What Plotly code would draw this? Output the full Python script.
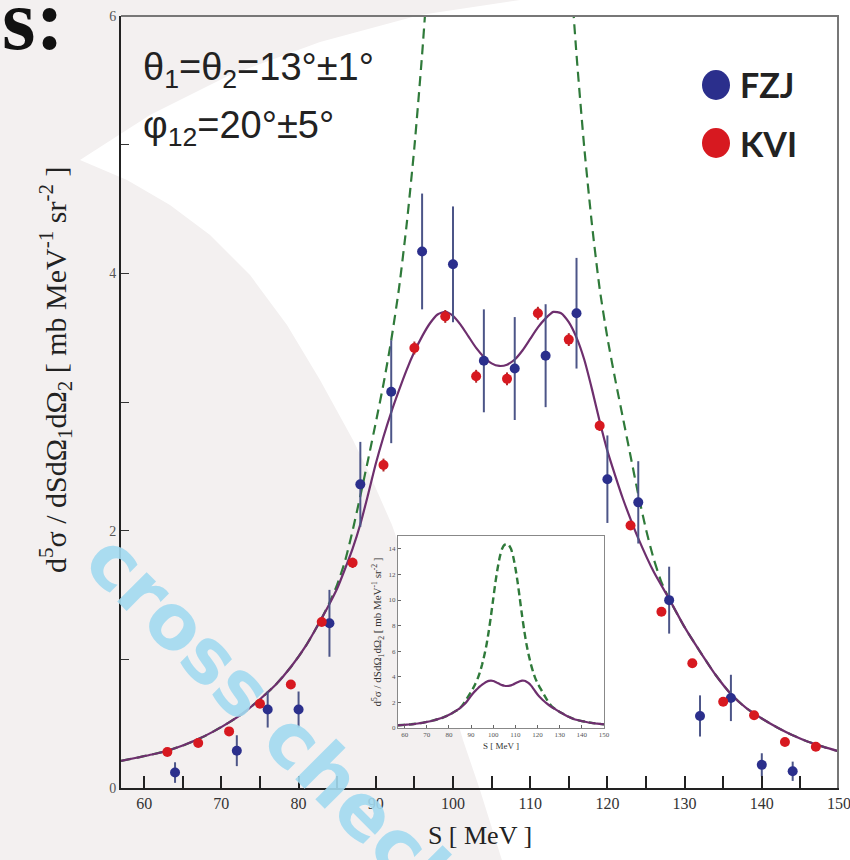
import plotly.graph_objects as go

# ---------------- data ----------------
fzj_s = [64, 72, 76, 80, 84, 88, 92, 96, 100, 104, 108, 112, 116, 120, 124, 128, 132, 136, 140, 144]
fzj_val = [0.12, 0.29, 0.61, 0.61, 1.28, 2.36, 3.08, 4.17, 4.07, 3.32, 3.26, 3.36, 3.69, 2.40, 2.22, 1.46, 0.56, 0.70, 0.18, 0.13]
fzj_err = [0.08, 0.12, 0.14, 0.14, 0.26, 0.33, 0.40, 0.45, 0.45, 0.40, 0.40, 0.40, 0.43, 0.34, 0.32, 0.26, 0.16, 0.18, 0.09, 0.075]

kvi_s = [63, 67, 71, 75, 79, 83, 87, 91, 95, 99, 103, 107, 111, 115, 119, 123, 127, 131, 135, 139, 143, 147]
kvi_val = [0.28, 0.35, 0.44, 0.655, 0.805, 1.29, 1.75, 2.51, 3.42, 3.665, 3.20, 3.18, 3.69, 3.485, 2.815, 2.04, 1.37, 0.97, 0.67, 0.565, 0.357, 0.32]
kvi_err = [0.02, 0.02, 0.02, 0.02, 0.02, 0.03, 0.04, 0.05, 0.05, 0.05, 0.05, 0.05, 0.05, 0.05, 0.04, 0.03, 0.02, 0.02, 0.02, 0.02, 0.02, 0.02]

full_s = [57, 59, 61, 63, 65, 67, 69, 71, 73, 75, 77, 79, 81, 83, 84, 85, 86, 87, 88, 89, 90,
          91, 92, 93, 94, 95, 96, 97, 98, 99, 100, 101, 102, 103, 104, 105, 106, 107, 108, 109, 110,
          111, 112, 113, 114, 115, 116, 117, 118, 119, 120, 121, 122, 123, 124, 126, 128, 130, 132,
          134, 136, 138, 140, 142, 144, 146, 148, 150]
full_val = [0.21, 0.235, 0.26, 0.29, 0.33, 0.38, 0.44, 0.51, 0.59, 0.69, 0.80, 0.94, 1.11, 1.32, 1.43, 1.55, 1.70, 1.86, 2.05, 2.28, 2.52,
            2.73, 2.92, 3.09, 3.25, 3.39, 3.51, 3.61, 3.68, 3.70, 3.67, 3.60, 3.51, 3.42, 3.35, 3.30, 3.28, 3.29, 3.33, 3.40, 3.49,
            3.58, 3.65, 3.70, 3.69, 3.62, 3.50, 3.33, 3.10, 2.85, 2.62, 2.43, 2.25, 2.09, 1.94, 1.68, 1.47, 1.25, 1.06,
            0.88, 0.73, 0.62, 0.54, 0.47, 0.41, 0.36, 0.32, 0.285]

nofsi_s = [57, 59, 61, 63, 65, 67, 69, 71, 73, 75, 77, 79, 81, 83, 84, 85, 86, 87, 88, 89, 90,
           91, 92, 93, 94, 95, 96, 97, 98, 99, 100, 101, 102, 103, 104, 105, 106, 107, 108, 109, 110,
           111, 112, 113, 114, 115, 116, 117, 118, 119, 120, 121, 122, 123, 124, 125, 126, 127, 128,
           130, 132, 134, 136, 138, 140, 142, 144, 146, 148, 150]
nofsi_val = [0.21, 0.235, 0.26, 0.29, 0.33, 0.38, 0.44, 0.51, 0.59, 0.69, 0.80, 0.94, 1.11, 1.32, 1.44, 1.58, 1.76, 2.00, 2.27, 2.55, 2.84,
             3.14, 3.48, 3.88, 4.38, 4.98, 5.70, 6.55, 7.6, 8.8, 10.1, 11.4, 12.5, 13.4, 14.0, 14.3, 14.35, 14.3, 14.0, 13.4, 12.5,
             11.4, 10.1, 8.8, 7.6, 6.55, 5.70, 4.98, 4.38, 3.88, 3.50, 3.18, 2.88, 2.58, 2.28, 2.01, 1.78, 1.60, 1.47,
             1.25, 1.06, 0.88, 0.73, 0.62, 0.54, 0.47, 0.41, 0.36, 0.32, 0.285]

x_ticks = [60, 70, 80, 90, 100, 110, 120, 130, 140, 150]
y_ticks = [0, 2, 4, 6]
inset_y_ticks = [0, 2, 4, 6, 8, 10, 12, 14]

# ---------------- page geometry (pixels -> paper) ----------------
W_FIG, H_FIG = 850, 860
L, R, T, B = 121, 839, 16, 788
PW, PH = R - L, B - T


def px(x):
    return (x - L) / PW


def py(y):
    return (B - y) / PH


def path_from(points):
    s = "M %.4f,%.4f" % (px(points[0][0]), py(points[0][1]))
    for (a, b) in points[1:]:
        s += " L %.4f,%.4f" % (px(a), py(b))
    return s + " Z"


NAVY = "#2b2f8c"
RED = "#d71920"
PURPLE = "#6e2f6e"
GREEN = "#2f7a3a"
SERIF = "Liberation Serif, Times New Roman, serif"
SANS = "Liberation Sans, Arial, sans-serif"

fig = go.Figure()

# main panel
fig.add_trace(go.Scatter(x=nofsi_s, y=nofsi_val, mode="lines", line=dict(color=GREEN, width=2.2, dash="10px,6px", shape="spline", smoothing=0.6),
                         showlegend=False, xaxis="x", yaxis="y"))
fig.add_trace(go.Scatter(x=full_s, y=full_val, mode="lines", line=dict(color=PURPLE, width=2.2, shape="spline", smoothing=0.6),
                         showlegend=False, xaxis="x", yaxis="y"))
fig.add_trace(go.Scatter(x=fzj_s, y=fzj_val, mode="markers",
                         marker=dict(color=NAVY, size=10),
                         error_y=dict(type="data", array=fzj_err, color="#4c5588", thickness=2, width=0),
                         showlegend=False, xaxis="x", yaxis="y"))
fig.add_trace(go.Scatter(x=kvi_s, y=kvi_val, mode="markers",
                         marker=dict(color=RED, size=10),
                         error_y=dict(type="data", array=kvi_err, color="#b02a2a", thickness=2, width=0),
                         showlegend=False, xaxis="x", yaxis="y"))

# inset
fig.add_trace(go.Scatter(x=nofsi_s, y=nofsi_val, mode="lines", line=dict(color=GREEN, width=2.4, dash="7px,4px", shape="spline", smoothing=0.6),
                         showlegend=False, xaxis="x2", yaxis="y2"))
fig.add_trace(go.Scatter(x=full_s, y=full_val, mode="lines", line=dict(color=PURPLE, width=2.2, shape="spline", smoothing=0.6),
                         showlegend=False, xaxis="x2", yaxis="y2"))

# background shapes
lens = [(80, 160), (150, 115), (230, 75), (320, 42), (420, 15), (520, 0), (860, 0), (860, 870),
        (505, 870), (480, 790), (463, 740), (440, 660), (415, 590), (392, 525), (370, 475), (353, 440),
        (320, 380), (287, 325), (250, 275), (210, 235), (170, 205), (127, 180)]
shapes = [
    dict(type="path", xref="paper", yref="paper", path=path_from(lens), fillcolor="white", line=dict(width=0), layer="below"),
    dict(type="rect", xref="paper", yref="paper", x0=px(398), x1=px(604), y0=py(728), y1=py(536),
         fillcolor="white", line=dict(width=0), layer="below"),
    # top and right frame of main panel
    dict(type="line", xref="paper", yref="paper", x0=0, x1=1, y0=1, y1=1, line=dict(color="#777", width=2)),
    dict(type="line", xref="paper", yref="paper", x0=px(838), x1=px(838), y0=0, y1=1, line=dict(color="#777", width=2)),
    # legend dots
    dict(type="circle", xref="paper", yref="paper", x0=px(702), x1=px(730), y0=py(100), y1=py(70),
         fillcolor=NAVY, line=dict(width=0)),
    dict(type="circle", xref="paper", yref="paper", x0=px(702), x1=px(730), y0=py(158), y1=py(128),
         fillcolor=RED, line=dict(width=0)),
]

ytitle = "d<sup>5</sup>σ / dSdΩ<sub>1</sub>dΩ<sub>2</sub> [ mb MeV<sup>-1</sup> sr<sup>-2</sup> ]"

annotations = [
    dict(xref="paper", yref="paper", x=px(141), y=py(70), xanchor="left", yanchor="middle", showarrow=False,
         text="θ<sub>1</sub>=θ<sub>2</sub>=13°±1°", font=dict(family=SANS, size=38, color="#222")),
    dict(xref="paper", yref="paper", x=px(141), y=py(128), xanchor="left", yanchor="middle", showarrow=False,
         text="φ<sub>12</sub>=20°±5°", font=dict(family=SANS, size=38, color="#222")),
    dict(xref="paper", yref="paper", x=px(738), y=py(85), xanchor="left", yanchor="middle", showarrow=False,
         text="<b>FZJ</b>", font=dict(family="Lato, Open Sans, sans-serif", size=34, color="#222")),
    dict(xref="paper", yref="paper", x=px(738), y=py(143), xanchor="left", yanchor="middle", showarrow=False,
         text="<b>KVI</b>", font=dict(family="Lato, Open Sans, sans-serif", size=34, color="#222")),
    dict(xref="paper", yref="paper", x=px(0), y=py(20), xanchor="left", yanchor="middle", showarrow=False,
         text="<b>s:</b>", font=dict(family=SERIF, size=86, color="#111")),
    dict(xref="paper", yref="paper", x=px(55), y=py(370), xanchor="center", yanchor="middle", showarrow=False,
         text=ytitle, textangle=-90, font=dict(family=SERIF, size=30, color="#222")),
    dict(xref="paper", yref="paper", x=px(276), y=py(722), xanchor="center", yanchor="middle", showarrow=False,
         text="<b>cross check</b>", textangle=45, opacity=0.9,
         font=dict(family="DejaVu Sans, Verdana, sans-serif", size=76, color="#a3daf0")),
]

fig.update_layout(
    width=W_FIG, height=H_FIG,
    margin=dict(l=L, r=W_FIG - R, t=T, b=H_FIG - B, autoexpand=False),
    paper_bgcolor="#f3f0f0", plot_bgcolor="rgba(0,0,0,0)",
    shapes=shapes, annotations=annotations, showlegend=False,
    xaxis=dict(domain=[0, 1], range=[57, 150], tickvals=x_ticks, ticks="inside", ticklen=12, tickwidth=1.5, tickcolor="#222",
               minor=dict(dtick=5, tick0=0, ticks="inside", ticklen=12, tickwidth=1.5, tickcolor="#222"),
               showline=True, linecolor="#222", linewidth=2, showgrid=False, zeroline=False, automargin=False,
               ticklabeloverflow="allow",
               tickfont=dict(family=SERIF, size=16, color="#333"),
               title=dict(text="S [ MeV ]", font=dict(family=SERIF, size=26, color="#222"), standoff=15)),
    yaxis=dict(domain=[0, 1], range=[0, 6], tickvals=y_ticks, ticks="inside", ticklen=8, tickwidth=1.2, tickcolor="#333",
               minor=dict(dtick=1, tick0=0, ticks="inside", ticklen=8, tickwidth=1.2, tickcolor="#333"),
               showline=True, linecolor="#222", linewidth=2, showgrid=False, zeroline=False, automargin=False,
               ticklabeloverflow="allow",
               tickfont=dict(family=SERIF, size=14, color="#555")),
    xaxis2=dict(domain=[px(398), px(604)], anchor="y2", range=[57, 150], dtick=10, tick0=0, ticks="inside", ticklen=3,
                tickwidth=0.8, tickcolor="#666", showline=True, linecolor="#888", linewidth=1, mirror=True,
                showgrid=False, zeroline=False, automargin=False, tickfont=dict(family=SERIF, size=7, color="#555"),
                title=dict(text="S [ MeV ]", font=dict(family=SERIF, size=9, color="#333"), standoff=4)),
    yaxis2=dict(domain=[py(728), py(536)], anchor="x2", range=[0, 15], tickvals=inset_y_ticks, ticks="inside", ticklen=3,
                tickwidth=0.8, tickcolor="#666", showline=True, linecolor="#888", linewidth=1, mirror=True,
                showgrid=False, zeroline=False, automargin=False, tickfont=dict(family=SERIF, size=7, color="#555"),
                title=dict(text=ytitle, font=dict(family=SERIF, size=11, color="#333"), standoff=4)),
)

fig.write_html("out.html")
